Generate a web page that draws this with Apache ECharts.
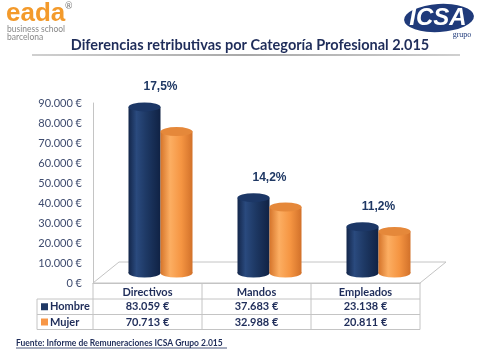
<!DOCTYPE html>
<html><head><meta charset="utf-8">
<script src="https://cdn.jsdelivr.net/npm/echarts@6/dist/echarts.min.js"></script>
<style>html,body{margin:0;padding:0;background:#fff}#c{width:480px;height:359px}</style>
</head><body><div id="c"></div>
<script>
// ---- data ----
const categories = ['Directivos', 'Mandos', 'Empleados'];
const seriesNames = ['Hombre', 'Mujer'];
const hombre = [83059, 37683, 23138];
const mujer = [70713, 32988, 20811];
const gapLabels = ['17,5%', '14,2%', '11,2%'];
const yMin = 0, yMax = 90000, yInterval = 10000;
const titleText = 'Diferencias retributivas por Categoría Profesional 2.015';
const sourceText = 'Fuente: Informe de Remuneraciones ICSA Grupo 2.015';

// ---- styles ----
const NAVY = '#1F2D5A';
const FONT = 'Lato, "DejaVu Sans", sans-serif';
const ARIAL = '"Liberation Sans", Arial, sans-serif';
const GRIDLINE = '#C4C4C4';
const COLORS = [
  { body: [['0', '#13264A'], ['0.25', '#2A4A7E'], ['0.55', '#1E3965'], ['1', '#102244']], top: '#1C3766', legend: '#1F3864' },
  { body: [['0', '#D5742A'], ['0.3', '#FCAE62'], ['0.65', '#F59542'], ['1', '#D2712A']], top: '#E5883A', legend: '#F79646' }
];
const fmt = v => String(v).replace(/\B(?=(\d{3})+(?!\d))/g, '.') + ' €';
const grad = stops => ({ type: 'linear', x: 0, y: 0, x2: 1, y2: 0,
  colorStops: stops.map(s => ({ offset: +s[0], color: s[1] })) });

const GL = 93, GR = 420, GT = 103, GB = 283;
const DEPTH_X = 26, DEPTH_Y = -21;

function makeRender(si) {
  return function (params, api) {
    const ci = api.value(0), v = api.value(1);
    const top = api.coord([ci, v]);
    const base = api.coord([ci, 0]);
    const bw = 32, r = bw / 2, ry = 4.5;
    const dx = DEPTH_X / 2, dy = -10;
    const cx = top[0] + dx + (si === 0 ? -r : r);
    const ty = top[1] + dy, by = base[1] + dy;
    const c = COLORS[si];
    const children = [
      { type: 'circle', x: cx, y: by, scaleY: ry / r, shape: { cx: 0, cy: 0, r: r }, style: { fill: grad(c.body) } },
      { type: 'rect', shape: { x: cx - r, y: ty, width: bw, height: by - ty }, style: { fill: grad(c.body) } },
      { type: 'circle', x: cx, y: ty, scaleY: ry / r, shape: { cx: 0, cy: 0, r: r }, style: { fill: c.top } }
    ];
    if (si === 0) {
      children.push({ type: 'text', x: cx + r, y: ty - 20,
        style: { text: gapLabels[ci], font: 'bold 12px ' + ARIAL, fill: '#1F3864', align: 'center', verticalAlign: 'middle' } });
    }
    return { type: 'group', children: children };
  };
}

const chart = echarts.init(document.getElementById('c'), null, { renderer: 'canvas' });

const option = {
  animation: false,
  backgroundColor: '#fff',
  grid: { left: GL, right: 480 - GR, top: GT, bottom: 359 - GB },
  xAxis: {
    type: 'category', data: categories, boundaryGap: true,
    axisTick: { show: false },
    axisLine: { show: true, lineStyle: { color: GRIDLINE } },
    axisLabel: { margin: 4, color: NAVY, fontWeight: 'bold', fontSize: 11, fontFamily: FONT }
  },
  yAxis: {
    type: 'value', min: yMin, max: yMax, interval: yInterval,
    axisLine: { show: true, lineStyle: { color: GRIDLINE } },
    axisTick: { show: false },
    splitLine: { show: false },
    axisLabel: { formatter: fmt, margin: 11, color: '#3E4B6E', fontSize: 11, fontFamily: FONT }
  },
  series: [
    { type: 'custom', name: seriesNames[0], renderItem: makeRender(0), z: 3,
      data: hombre.map((v, i) => [i, v]) },
    { type: 'custom', name: seriesNames[1], renderItem: makeRender(1), z: 3,
      data: mujer.map((v, i) => [i, v]) }
  ]
};
chart.setOption(option);

// ---- decorations & table ----
const g = [];
// floor
g.push({ type: 'polygon', z: 0, shape: { points: [[GL, GB], [GL + DEPTH_X, GB + DEPTH_Y], [GR + DEPTH_X, GB + DEPTH_Y], [GR, GB]] },
  style: { fill: '#fff', stroke: GRIDLINE, lineWidth: 1 } });

// table
const rowTop = [GB, GB + 16, GB + 31.5, GB + 46.5];
const legendLeft = 37;
const colEdges = [0, 1, 2].map(i => chart.convertToPixel({ xAxisIndex: 0 }, i) - (GR - GL) / 6);
colEdges.push(GR);
const lineStyle = { stroke: GRIDLINE, lineWidth: 1 };
[1, 2, 3].forEach(k => g.push({ type: 'line', shape: { x1: legendLeft, y1: rowTop[k], x2: GR, y2: rowTop[k] }, style: lineStyle }));
g.push({ type: 'line', shape: { x1: legendLeft, y1: rowTop[1], x2: legendLeft, y2: rowTop[3] }, style: lineStyle });
colEdges.forEach(x => g.push({ type: 'line', shape: { x1: x, y1: rowTop[0], x2: x, y2: rowTop[3] }, style: lineStyle }));

[hombre, mujer].forEach((arr, si) => {
  const yc = (rowTop[si + 1] + rowTop[si + 2]) / 2;
  g.push({ type: 'rect', shape: { x: legendLeft + 4, y: yc - 3.5, width: 7, height: 7 }, style: { fill: COLORS[si].legend } });
  g.push({ type: 'text', x: legendLeft + 13, y: yc, style: { text: seriesNames[si], font: 'bold 11px ' + FONT, fill: NAVY, verticalAlign: 'middle' } });
  arr.forEach((v, ci) => {
    const x = chart.convertToPixel({ xAxisIndex: 0 }, ci);
    g.push({ type: 'text', x: x, y: yc, style: { text: fmt(v), font: 'bold 11px ' + FONT, fill: NAVY, align: 'center', verticalAlign: 'middle' } });
  });
});

// title
g.push({ type: 'text', x: 250, y: 45, style: { text: titleText, font: 'bold 14.5px ' + FONT, fill: NAVY, align: 'center', verticalAlign: 'middle' } });
g.push({ type: 'line', shape: { x1: 32, y1: 55, x2: 460, y2: 55 },
  style: { stroke: { type: 'linear', x: 0, y: 0, x2: 1, y2: 0, colorStops: [{ offset: 0, color: '#D0D0D0' }, { offset: 0.5, color: '#A8A8A8' }, { offset: 1, color: '#D0D0D0' }] }, lineWidth: 2 } });

// eada logo
g.push({ type: 'text', x: 6, y: 14, style: { text: 'eada', font: 'bold 26px ' + ARIAL, fill: '#F39A2B', verticalAlign: 'middle' } });
g.push({ type: 'text', x: 65, y: 6, style: { text: '®', font: '9px ' + FONT, fill: '#777', verticalAlign: 'middle' } });
g.push({ type: 'text', x: 7, y: 29, style: { text: 'business school', font: '8.5px ' + FONT, fill: '#888', verticalAlign: 'middle' } });
g.push({ type: 'text', x: 7, y: 37, style: { text: 'barcelona', font: '8.5px ' + FONT, fill: '#888', verticalAlign: 'middle' } });

// ICSA logo
g.push({ type: 'circle', x: 439, y: 18, scaleY: 0.4, rotation: 0.06, shape: { cx: 0, cy: 0, r: 35 }, style: { fill: '#1F3A7A' } });
g.push({ type: 'text', x: 438, y: 18, style: { text: 'ICSA', font: 'italic bold 24px ' + ARIAL, fill: '#fff', align: 'center', verticalAlign: 'middle' } });
g.push({ type: 'text', x: 462, y: 35, style: { text: 'grupo', font: '8px "Liberation Serif", serif', fill: '#1F3A7A', align: 'center', verticalAlign: 'middle' } });

// source
g.push({ type: 'text', x: 16, y: 343, style: { text: sourceText, font: 'bold 8.5px ' + FONT, fill: NAVY, verticalAlign: 'middle' } });
g.push({ type: 'line', shape: { x1: 16, y1: 348, x2: 227, y2: 348 }, style: { stroke: NAVY, lineWidth: 0.8 } });

chart.setOption({ graphic: { elements: g } });
</script>
</body></html>
